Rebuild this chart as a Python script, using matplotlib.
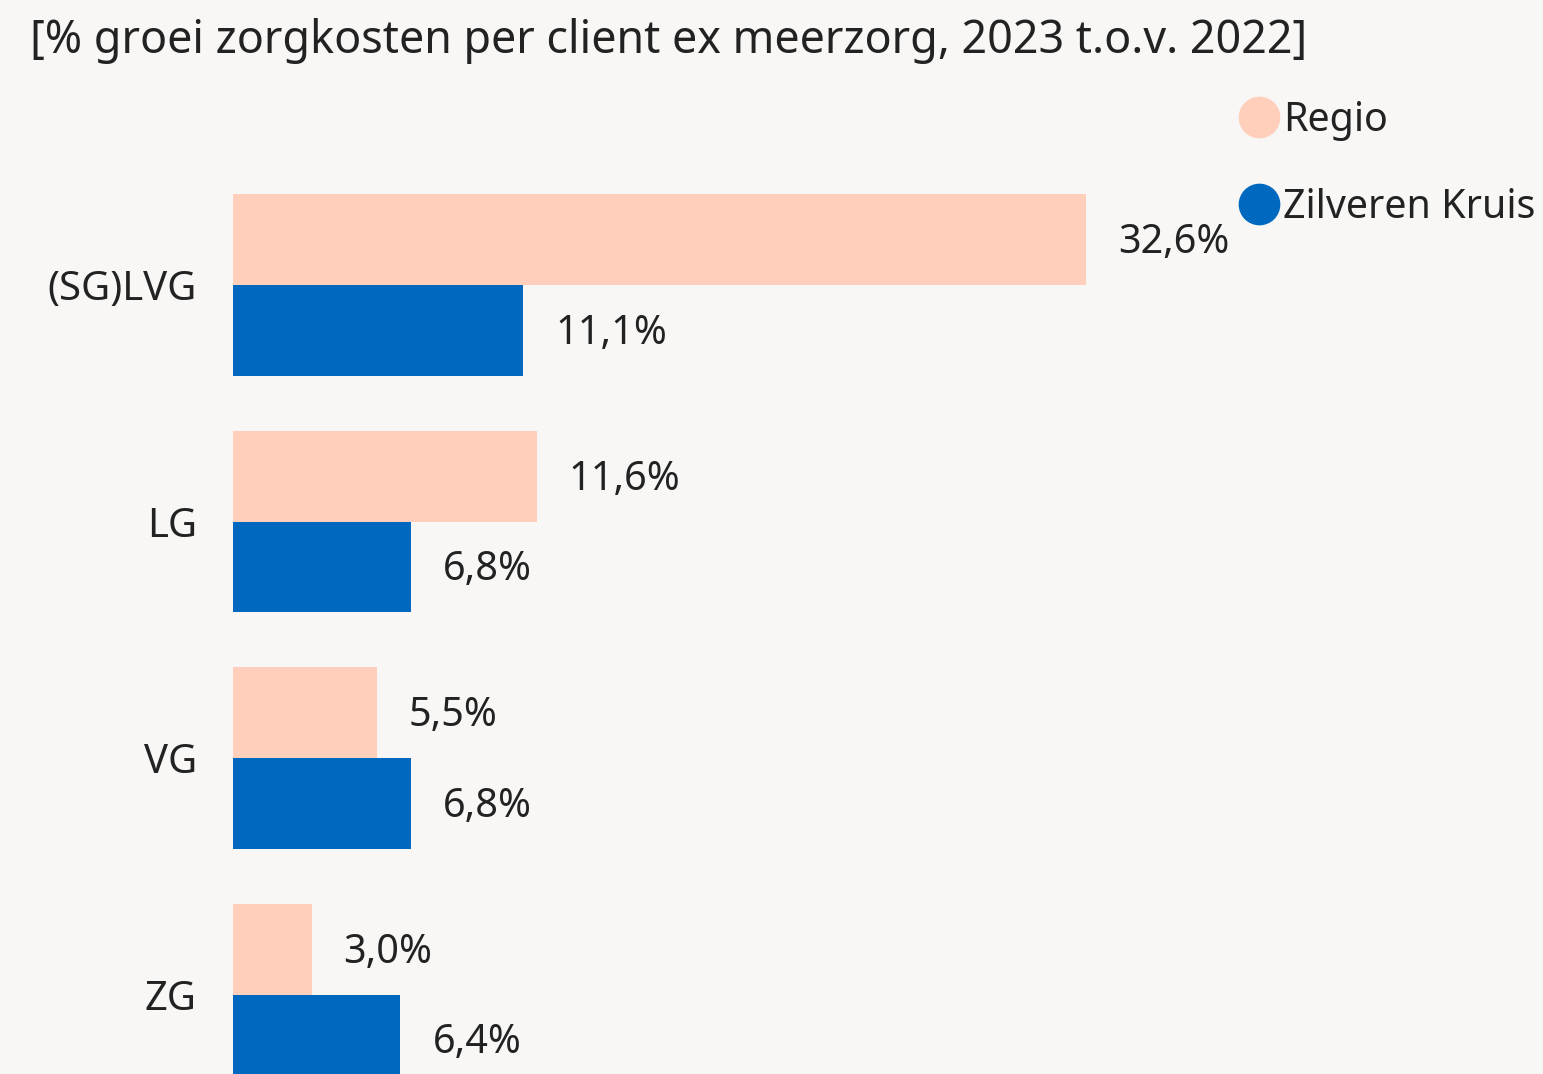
import matplotlib
matplotlib.use('Agg')
import matplotlib.pyplot as plt
from matplotlib.lines import Line2D

plt.rcParams['font.family'] = ['Noto Sans', 'DejaVu Sans']

categories = ['(SG)LVG', 'LG', 'VG', 'ZG']
regio = [32.6, 11.6, 5.5, 3.0]
zk = [11.1, 6.8, 6.8, 6.4]
series_names = ['Regio', 'Zilveren Kruis']
title = '[% groei zorgkosten per client ex meerzorg, 2023 t.o.v. 2022]'

c_regio = '#FFCFBB'
c_zk = '#0069BF'
bg = '#F8F7F5'
txt = '#222222'

W, H = 1543, 1074
fig = plt.figure(figsize=(W / 100, H / 100), dpi=100)
fig.patch.set_facecolor(bg)

# axes from the bar baseline to the right edge, full height
ax = fig.add_axes([233 / W, 0, (W - 233) / W, 1])
ax.set_facecolor(bg)

h = 0.383
ypos = list(range(len(categories)))
b1 = ax.barh([y - h / 2 for y in ypos], regio, height=h, color=c_regio)
b2 = ax.barh([y + h / 2 for y in ypos], zk, height=h, color=c_zk)

ax.set_xlim(0, (W - 233) / 26.17)
ax.set_ylim(3.336, -1.205)

def fmt(v):
    return ('%.1f%%' % v).replace('.', ',')

for bars, vals in ((b1, regio), (b2, zk)):
    for b, v in zip(bars, vals):
        ax.annotate(fmt(v), (b.get_width(), b.get_y() + b.get_height() / 2),
                    xytext=(23, -2.5), textcoords='offset points',
                    va='center', ha='left', fontsize=28.5, color=txt)

ax.set_yticks(ypos)
ax.set_yticklabels(categories, fontsize=28.8, color=txt)
ax.tick_params(axis='y', length=0, pad=26)
ax.set_xticks([])
for s in ax.spines.values():
    s.set_visible(False)

fig.text(30 / W, 1 - 41 / H, title, fontsize=32.3, color=txt, va='center', ha='left')

handles = [Line2D([], [], ls='none', marker='o', markersize=29, color=c)
           for c in (c_regio, c_zk)]
fig.legend(handles, series_names, loc='upper left',
           bbox_to_anchor=(1222 / W, 1 - 81 / H), frameon=False, fontsize=28.4,
           handlelength=0.9, handletextpad=0.15, labelspacing=1.2,
           borderpad=0, labelcolor=txt)

fig.savefig('out.png', dpi=100, facecolor=bg)
